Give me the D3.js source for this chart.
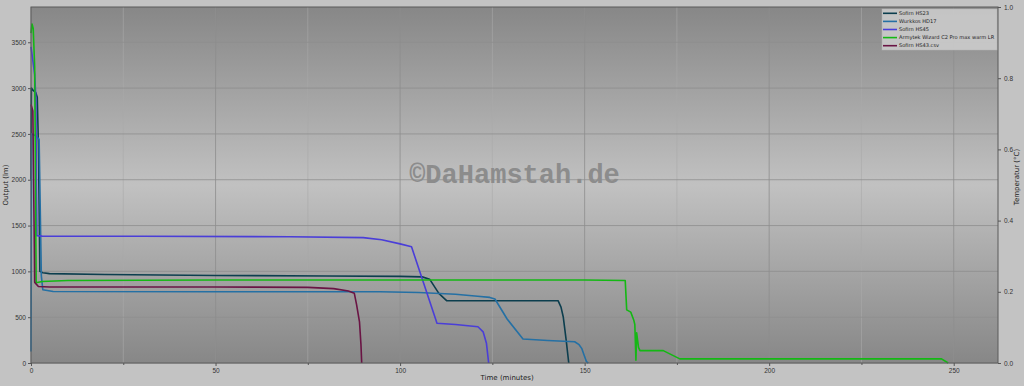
<!DOCTYPE html>
<html>
<head>
<meta charset="utf-8">
<script src="https://cdn.jsdelivr.net/npm/d3@7"></script>
<style>
  body { margin: 0; background: #c3c3c3; }
  svg { display: block; font-family: "DejaVu Sans", sans-serif; }
</style>
</head>
<body>
<div id="chart"></div>
<script>
// Series: [minutes, lumens]
const hs23 = [[0,2000],[0.1,3000],[0.6,2975],[1.3,2950],[1.7,2900],[2.0,2400],[2.4,1000],[3.2,985],[5,975],[20,965],[50,955],[80,950],[100,945],[106,940],[108,915],[110.5,760],[112.6,680],[120,680],[142.8,680],[143.6,610],[144.2,505],[145,250],[145.7,0]];
const hd17 = [[0,125],[0.2,2500],[1.3,2480],[2.2,2440],[2.8,950],[3.2,800],[6,780],[50,778],[94.5,778],[105,770],[115,750],[121,728],[124.3,716],[125.7,698],[129,480],[133.3,262],[140,245],[147.3,232],[148.5,200],[149.2,160],[150.5,14],[151,0]];
const hs45 = [[0,3450],[0.5,3300],[1.0,3150],[1.3,2900],[1.6,1390],[3,1385],[30,1383],[70,1378],[90,1368],[95,1345],[100,1300],[103.1,1268],[110,433],[115,420],[121.1,396],[122.5,340],[123.4,215],[124,0]];
const armytek = [[0,3600],[0.27,3700],[0.6,3650],[1.0,3230],[1.4,875],[3,890],[10,900],[50,905],[100,905],[150,905],[161,900],[161.4,580],[162.5,555],[163.3,470],[163.6,420],[163.9,30],[164.1,330],[164.6,170],[165,135],[171.3,135],[175.8,45],[246.7,45],[248.5,0]];
const hs43 = [[0,2820],[0.5,2750],[1.0,880],[2,835],[5,830],[50,830],[75,825],[82,812],[86,785],[87.6,760],[88.2,640],[89.0,450],[89.4,200],[89.6,0]];

const seriesNames = ["Sofirn HS23","Wurkkos HD17","Sofirn HS45","Armytek Wizard C2 Pro max warm LR","Sofirn HS43.csv"];
const seriesData = [hs23, hd17, hs45, armytek, hs43];
const seriesColors = ["#0c3e4e","#2570a4","#4a3ed8","#14b814","#6a1444"];

const yTicks = [0,500,1000,1500,2000,2500,3000,3500];
const xTicks = [0,50,100,150,200,250];
const xMinor = [25,75,125,175,225];
const tempTicks = [0,0.2,0.4,0.6,0.8,1.0];

const W = 1024, H = 386;
const margin = { top: 7, right: 26, bottom: 23, left: 31 };
const width = W - margin.left - margin.right;
const height = H - margin.top - margin.bottom;

const svg = d3.select("#chart").append("svg")
  .attr("width", W).attr("height", H);

const defs = svg.append("defs");
const grad = defs.append("linearGradient")
  .attr("id", "bg").attr("x1", 0).attr("x2", 0).attr("y1", 0).attr("y2", 1);
grad.append("stop").attr("offset", "0%").attr("stop-color", "#878787");
grad.append("stop").attr("offset", "50%").attr("stop-color", "#c1c1c1");
grad.append("stop").attr("offset", "100%").attr("stop-color", "#878787");

const g = svg.append("g").attr("transform", `translate(${margin.left},${margin.top})`);

const x = d3.scaleLinear().domain([0, 262]).range([0, width]);
const y = d3.scaleLinear().domain([0, 3885]).range([height, 0]);
const yT = d3.scaleLinear().domain([0, 1]).range([height, 0]);

g.append("rect").attr("width", width).attr("height", height).attr("fill", "url(#bg)");

// grid
g.append("g").selectAll("line").data(xMinor).enter().append("line")
  .attr("x1", d => x(d)).attr("x2", d => x(d)).attr("y1", 0).attr("y2", height)
  .attr("stroke", "#aaaaaa").attr("stroke-width", 0.6);
g.append("g").selectAll("line").data(xTicks).enter().append("line")
  .attr("x1", d => x(d)).attr("x2", d => x(d)).attr("y1", 0).attr("y2", height)
  .attr("stroke", "#8e8e8e").attr("stroke-width", 0.8);
g.append("g").selectAll("line").data(yTicks).enter().append("line")
  .attr("x1", 0).attr("x2", width).attr("y1", d => y(d)).attr("y2", d => y(d))
  .attr("stroke", "#8e8e8e").attr("stroke-width", 0.8);

// watermark
g.append("text")
  .attr("x", x(131)).attr("y", y(1960))
  .attr("text-anchor", "middle")
  .style("font-family", "'Liberation Mono', 'DejaVu Sans Mono', monospace")
  .style("font-size", "27px")
  .style("font-weight", "bold")
  .style("fill", "#8c8c8c")
  .text("©DaHamstah.de");

// lines
const line = d3.line().x(d => x(d[0])).y(d => y(d[1]));
seriesData.forEach((data, i) => {
  g.append("path")
    .datum(data)
    .attr("fill", "none")
    .attr("stroke", seriesColors[i])
    .attr("stroke-width", 1.6)
    .attr("stroke-linejoin", "round")
    .attr("d", line);
});

// frame
g.append("rect").attr("width", width).attr("height", height)
  .attr("fill", "none").attr("stroke", "#5a5a5a").attr("stroke-width", 1);

// axes
const styleAxis = sel => {
  sel.select(".domain").remove();
  sel.selectAll("line").attr("stroke", "#555");
  sel.selectAll("text").style("font-size", "6.5px").style("fill", "#333");
};
g.append("g").attr("transform", `translate(0,${height})`)
  .call(d3.axisBottom(x).tickValues(xTicks).tickSize(3).tickPadding(2).tickFormat(d3.format("d")))
  .call(styleAxis);
g.append("g").attr("transform", `translate(0,${height})`)
  .call(d3.axisBottom(x).tickValues(xMinor).tickSize(2).tickFormat(""))
  .call(styleAxis);
g.append("g")
  .call(d3.axisLeft(y).tickValues(yTicks).tickSize(3).tickPadding(2).tickFormat(d3.format("d")))
  .call(styleAxis);
g.append("g").attr("transform", `translate(${width},0)`)
  .call(d3.axisRight(yT).tickValues(tempTicks).tickSize(3).tickPadding(3).tickFormat(d3.format(".1f")))
  .call(styleAxis);

// axis labels
g.append("text")
  .attr("transform", `translate(${-23},${height / 2}) rotate(-90)`)
  .attr("text-anchor", "middle")
  .style("font-size", "7px").style("fill", "#222")
  .text("Output (lm)");
g.append("text")
  .attr("transform", `translate(${width + 21},${height / 2 - 8}) rotate(-90)`)
  .attr("text-anchor", "middle")
  .style("font-size", "7px").style("fill", "#222")
  .text("Temperatur (°C)");
g.append("text")
  .attr("x", x(129)).attr("y", height + 17)
  .attr("text-anchor", "middle")
  .style("font-size", "7px").style("fill", "#222")
  .text("Time (minutes)");

// legend
const legend = g.append("g").attr("transform", `translate(${width - 116},2)`);
legend.append("rect")
  .attr("width", 115).attr("height", 41)
  .attr("fill", "#cfcfcf").attr("fill-opacity", 0.85)
  .attr("stroke", "#b5b5b5").attr("stroke-width", 0.5);
seriesNames.forEach((name, i) => {
  const ly = 4.3 + i * 8.1;
  legend.append("line")
    .attr("x1", 1).attr("x2", 15).attr("y1", ly).attr("y2", ly)
    .attr("stroke", seriesColors[i]).attr("stroke-width", 1.6);
  legend.append("text")
    .attr("x", 17).attr("y", ly).attr("dy", "0.35em")
    .style("font-size", "5.1px").style("fill", "#222")
    .text(name);
});
</script>
</body>
</html>
